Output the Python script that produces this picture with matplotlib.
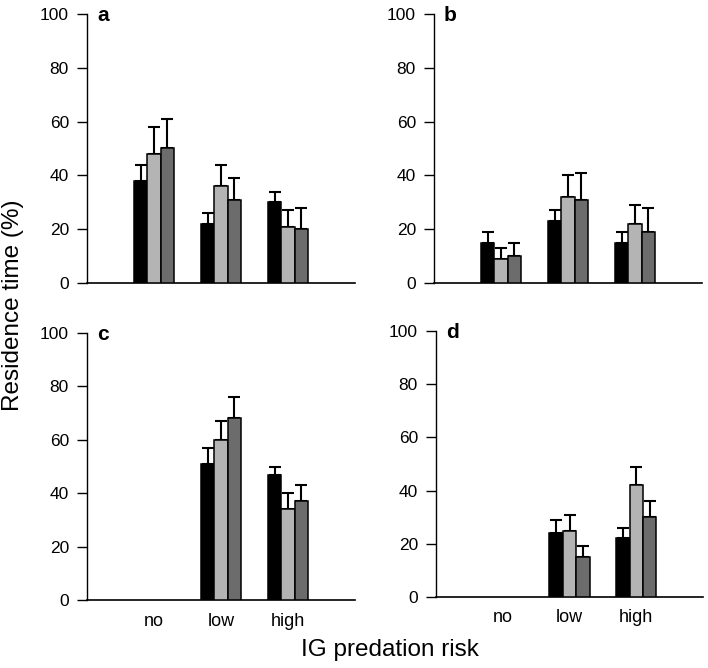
import matplotlib
matplotlib.use("Agg")
import matplotlib.pyplot as plt
import numpy as np

plt.rcParams["font.family"] = ["Liberation Sans", "DejaVu Sans"]

categories = ["no", "low", "high"]
panel_labels = ["a", "b", "c", "d"]
bar_colors = ["#000000", "#b4b4b4", "#6c6c6c"]

# mean residence time (%) per panel, one list per series (black, light, dark)
means_a = [[38, 22, 30], [48, 36, 21], [50, 31, 20]]
errs_a = [[6, 4, 4], [10, 8, 6], [11, 8, 8]]
means_b = [[15, 23, 15], [9, 32, 22], [10, 31, 19]]
errs_b = [[4, 4, 4], [4, 8, 7], [5, 10, 9]]
means_c = [[0, 51, 47], [0, 60, 34], [0, 68, 37]]
errs_c = [[0, 6, 3], [0, 7, 6], [0, 8, 6]]
means_d = [[0, 24, 22], [0, 25, 42], [0, 15, 30]]
errs_d = [[0, 5, 4], [0, 6, 7], [0, 4, 6]]

all_means = [means_a, means_b, means_c, means_d]
all_errs = [errs_a, errs_b, errs_c, errs_d]

fig = plt.figure(figsize=(7.08, 6.68), dpi=100)
W, H = 708, 668
# axes boxes in pixels: left, top, right, bottom
boxes = [(87, 14, 355, 283), (434, 14, 702, 283),
         (87, 333, 355, 600), (436, 331, 703, 597)]

x = np.arange(1, len(categories) + 1)
width = 0.2

for i, (l, t, r, b) in enumerate(boxes):
    ax = fig.add_axes([l / W, 1 - b / H, (r - l) / W, (b - t) / H])
    means = all_means[i]
    errs = all_errs[i]
    for j, (m, e) in enumerate(zip(means, errs)):
        m = np.array(m)
        e = np.array(e)
        pos = x + (j - 1) * width
        show = m > 0
        ax.bar(pos[show], m[show], width, color=bar_colors[j],
               edgecolor="black", linewidth=1.1, zorder=3)
        ax.errorbar(pos[show], m[show], yerr=[np.zeros(show.sum()), e[show]],
                    fmt="none", ecolor="black", elinewidth=1.5,
                    capsize=4.5, capthick=1.5, zorder=2)
    ax.set_xlim(0, 4)
    ax.set_ylim(0, 100)
    ax.set_yticks([0, 20, 40, 60, 80, 100])
    ax.spines["top"].set_visible(False)
    ax.spines["right"].set_visible(False)
    ax.spines["left"].set_linewidth(1.0)
    ax.spines["bottom"].set_linewidth(1.2)
    ax.tick_params(axis="y", direction="out", length=7, width=1.0,
                   labelsize=12.5, pad=6)
    ax.tick_params(axis="x", length=0, labelsize=13, pad=9)
    ax.set_xticks(x)
    if i >= 2:
        ax.set_xticklabels(categories)
    else:
        ax.set_xticklabels([])
    ax.text(0.037, 0.974, panel_labels[i], transform=ax.transAxes,
            fontsize=15, fontweight="bold", va="baseline", ha="left")

fig.text(13 / W, 1 - 305 / H, "Residence time (%)", rotation=90,
         ha="center", va="center", fontsize=17.5)
fig.text(390 / W, 1 - 650 / H, "IG predation risk",
         ha="center", va="center", fontsize=17.5)

fig.savefig("out.png", dpi=100)
